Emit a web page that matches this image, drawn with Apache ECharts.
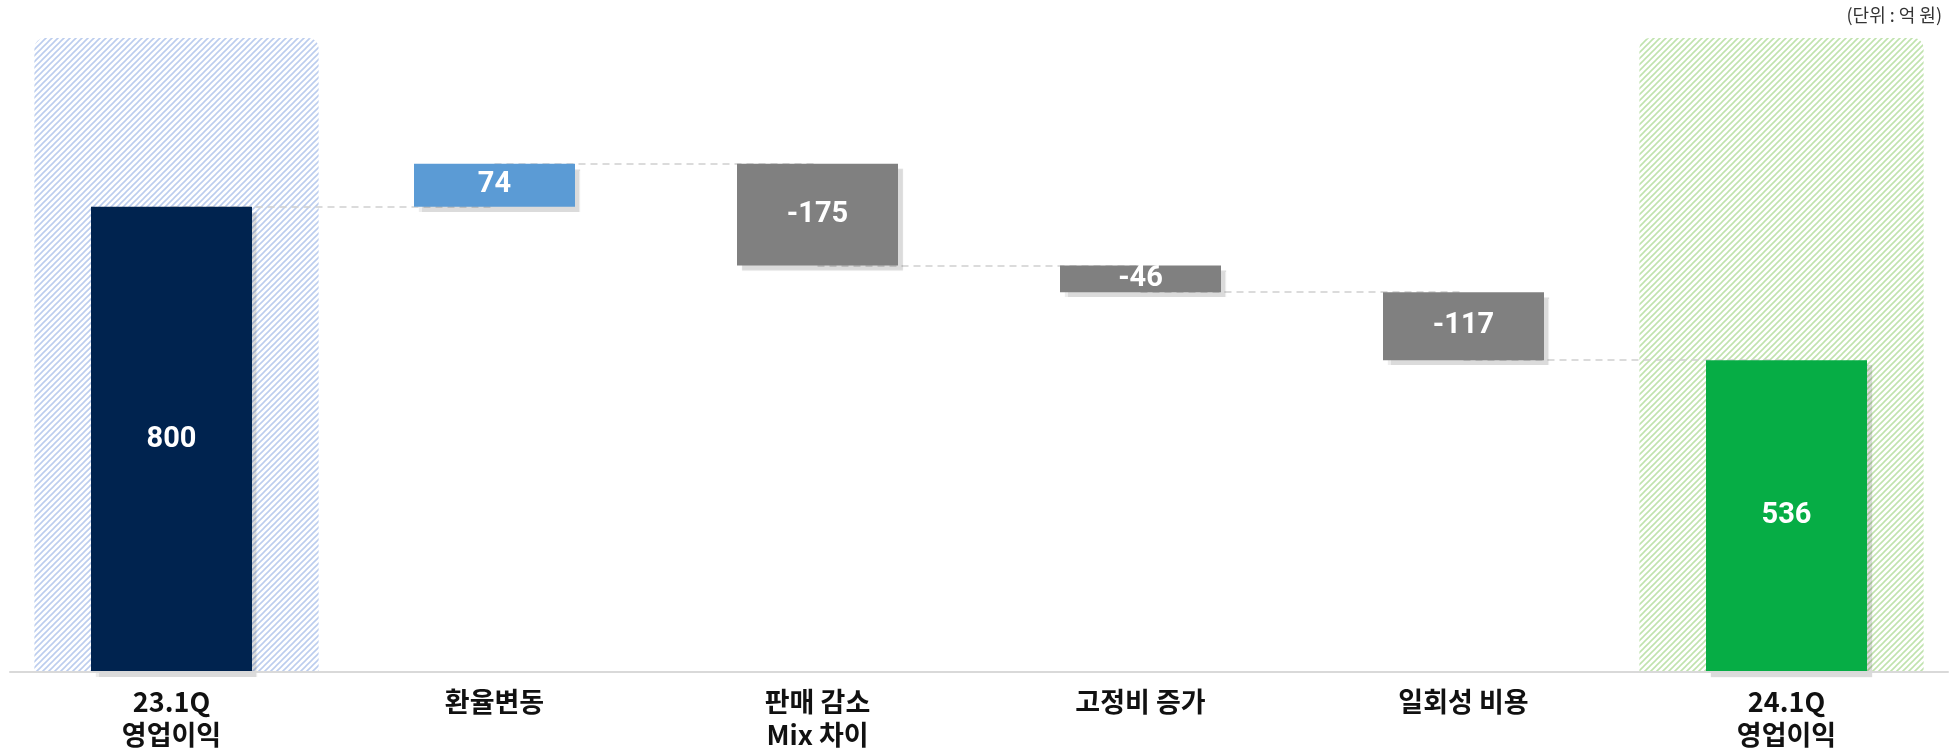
<!DOCTYPE html>
<html>
<head>
<meta charset="utf-8">
<script src="https://cdn.jsdelivr.net/npm/echarts@6/dist/echarts.min.js"></script>
<style>
html,body{margin:0;padding:0;background:#fff;}
#c{width:1958px;height:754px;}
</style>
</head>
<body>
<div id="c"></div>
<script>
// ---- data ----
var categories = ['23.1Q\n영업이익', '환율변동', '판매 감소\nMix 차이', '고정비 증가', '일회성 비용', '24.1Q\n영업이익'];
var changes = [800, 74, -175, -46, -117, 536];
var isTotal = [true, false, false, false, false, true];
var panelCategories = [0, 5];
var unitText = '(단위 : 억 원)';
var yMax = 1090;

// ---- derived waterfall arrays ----
var bases = [], heights = [], levels = [];
var running = 0;
for (var i = 0; i < changes.length; i++) {
  if (isTotal[i]) {
    bases.push(0); heights.push(changes[i]); running = changes[i];
  } else {
    var next = running + changes[i];
    bases.push(Math.min(running, next));
    heights.push(Math.abs(changes[i]));
    running = next;
  }
  levels.push(running);
}

function barColor(i) {
  if (i === 0) return '#00234f';
  if (i === changes.length - 1) return '#06ad45';
  return changes[i] >= 0 ? '#5b9bd5' : '#808080';
}

function hatch(color) {
  var s = 6, cv = document.createElement('canvas');
  cv.width = s; cv.height = s;
  var ctx = cv.getContext('2d');
  ctx.strokeStyle = color; ctx.lineWidth = 1.6;
  ctx.beginPath();
  ctx.moveTo(0, s); ctx.lineTo(s, 0);
  ctx.moveTo(-1, 1); ctx.lineTo(1, -1);
  ctx.moveTo(s - 1, s + 1); ctx.lineTo(s + 1, s - 1);
  ctx.stroke();
  return { image: cv, repeat: 'repeat' };
}
var hatchBlue = hatch('#bccdee');
var hatchGreen = hatch('#c0e3ae');

var panelData = panelCategories.map(function (c) { return [c, yMax]; });

var connectors = [];
for (var k = 0; k < levels.length - 1; k++) {
  connectors.push([{ coord: [k, levels[k]] }, { coord: [k + 1, levels[k]] }]);
}

var chart = echarts.init(document.getElementById('c'), null, { renderer: 'canvas' });
chart.setOption({
  animation: false,
  grid: { left: 10, right: 10, top: 38, bottom: 82, containLabel: false },
  xAxis: {
    type: 'category',
    data: categories,
    axisLine: { show: true, lineStyle: { color: '#d9d9d9', width: 2 } },
    axisTick: { show: false },
    axisLabel: {
      color: '#111', fontSize: 27, fontWeight: 'bold', lineHeight: 33, margin: 13,
      fontFamily: '"Noto Sans CJK KR", "Noto Sans", sans-serif', interval: 0
    },
    z: 5
  },
  yAxis: { type: 'value', min: 0, max: yMax, show: false, splitLine: { show: false } },
  graphic: [{
    type: 'text', right: 16, top: 6,
    style: { text: unitText, fill: '#333', font: '18px "Noto Sans CJK KR", sans-serif' }
  }],
  series: [{
    name: 'panel', type: 'custom', z: 1, silent: true,
    data: panelData,
    encode: { x: 0, y: 1 },
    renderItem: function (params, api) {
      var idx = api.value(0);
      var top = api.coord([idx, api.value(1)]);
      var bottom = api.coord([idx, 0]);
      var band = api.size([1, 0])[0];
      var w = band * 0.88;
      var shift = idx === 0 ? 5 : -5;
      return {
        type: 'rect',
        shape: { x: top[0] - w / 2 + shift, y: top[1], width: w, height: bottom[1] - top[1], r: [10, 10, 0, 0] },
        style: { fill: idx === 0 ? hatchBlue : hatchGreen }
      };
    }
  }, {
    name: 'base', type: 'bar', stack: 'wf', barWidth: 161, z: 2,
    data: bases,
    itemStyle: { color: 'transparent' },
    markLine: {
      z: 2, silent: true, symbol: 'none', label: { show: false },
      lineStyle: { color: '#d0d0d0', type: [7, 5], width: 1.6 },
      data: connectors
    }
  }, {
    name: 'value', type: 'bar', stack: 'wf', barWidth: 161, z: 3,
    data: heights.map(function (h, i) {
      return { value: h, itemStyle: { color: barColor(i) } };
    }),
    itemStyle: { shadowColor: 'rgba(0,0,0,0.14)', shadowOffsetX: 5, shadowOffsetY: 5, shadowBlur: 1 },
    label: {
      show: true, position: 'inside', color: '#fff', fontSize: 29, fontWeight: 'bold',
      fontFamily: 'Roboto, "Noto Sans", sans-serif',
      formatter: function (p) { return String(changes[p.dataIndex]); }
    }
  }]
});
</script>
</body>
</html>
